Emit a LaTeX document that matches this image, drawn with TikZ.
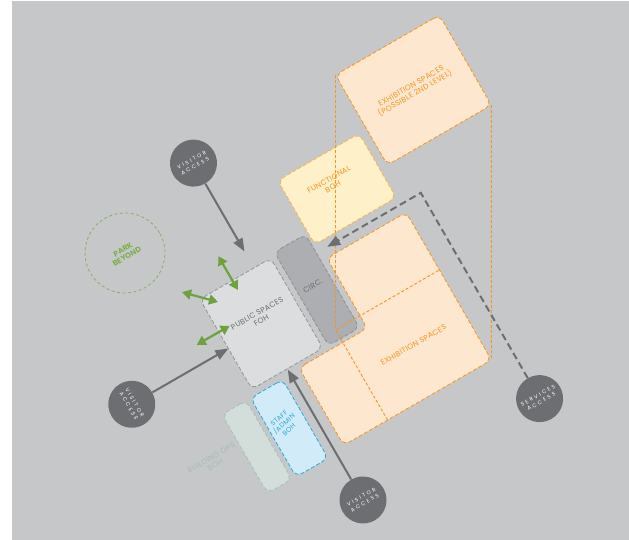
\documentclass[tikz,border=0pt]{standalone}
\usepackage{fontspec}
\setmainfont{Poppins}
\usetikzlibrary{arrows.meta}
\definecolor{bggray}{HTML}{C6C7C9}
\definecolor{dgray}{HTML}{6D6E71}
\definecolor{orng}{HTML}{F7941D}
\definecolor{peach}{HTML}{FDE7CF}
\definecolor{ylw}{HTML}{FEF0C9}
\definecolor{ylwline}{HTML}{FBB34C}
\definecolor{circfill}{HTML}{ADAEB1}
\definecolor{circline}{HTML}{8F9093}
\definecolor{fohfill}{HTML}{DCDDDF}
\definecolor{fohline}{HTML}{939598}
\definecolor{blfill}{HTML}{D2EBF8}
\definecolor{blline}{HTML}{27AAE1}
\definecolor{opsfill}{HTML}{D3DEDA}
\definecolor{opsline}{HTML}{A7C2B8}
\definecolor{opstext}{HTML}{A3BCB1}
\definecolor{grn}{HTML}{6EA23F}
\definecolor{parkgrn}{HTML}{7DAF4E}
\begin{document}
\begin{tikzpicture}[x=1pt,y=-1pt,
  lbl/.style={font=\fontsize{7.6}{8.2}\selectfont\addfontfeature{LetterSpace=4}, align=center, inner sep=0pt},
  box/.style={draw, line width=0.8pt, dash pattern=on 4pt off 2pt, rounded corners=7pt, inner sep=0pt},
  exh/.style={box, draw=orng, fill=peach},
  fbox/.style={box, draw=ylwline, fill=ylw},
  cbox/.style={box, draw=circline, fill=circfill},
  fohbox/.style={box, draw=fohline, fill=fohfill},
  staffbox/.style={box, draw=blline, fill=blfill},
  opsbox/.style={box, draw=opsline, fill=opsfill},
  proj/.style={draw=orng, line width=0.9pt, dash pattern=on 3pt off 2pt},
  acc/.style={circle, fill=dgray, minimum size=47pt, inner sep=0pt, text=white, align=center,
    font=\fontsize{5.3}{6.8}\selectfont\addfontfeature{LetterSpace=40}},
  garrow/.style={draw=dgray, line width=2pt, -{Triangle[length=13pt,width=10pt]}},
  sarrow/.style={draw=dgray, line width=2pt, dash pattern=on 7pt off 4pt, -{Triangle[length=13pt,width=10pt]}},
  gdbl/.style={draw=grn, line width=2.2pt, {Triangle[length=9pt,width=10pt]}-{Triangle[length=9pt,width=10pt]}}
]
\useasboundingbox (0,0) rectangle (629,540);
\fill[white] (0,0) rectangle (629,540);
\fill[bggray] (12,1) rectangle (629,540);
\begin{scope}[rotate=30, transform shape]
  % upper level exhibition
  \node[exh, minimum width=120pt, minimum height=104pt, lbl, text=orng] (exh2) at (313,284.7)
    {EXHIBITION SPACES\\(POSSIBLE 2ND LEVEL)};
  % functional BOH
  \node[fbox, minimum width=94pt, minimum height=74pt] (fboh) at (197.3,332.2) {};
  \node[lbl, text=orng] (fbohlbl) at (195,324) {FUNCTIONAL\\BOH};
  % circulation
  \node[cbox, minimum width=36pt, minimum height=108pt] (circ) at (129.5,409.6) {};
  \node[lbl, text=dgray] (circlbl) at (128,404) {CIRC.};
  % public spaces
  \node[fohbox, minimum width=82pt, minimum height=104pt] (foh) at (64.5,411) {};
  \node[lbl, text=dgray] (fohlbl) at (66,404) {PUBLIC SPACES\\FOH};
  % exhibition spaces (L shape)
  \draw[exh] (75,468) -- (154,468) -- (154,387) -- (245.6,387) -- (245.6,557.5) -- (75,557.5) -- cycle;
  % staff / admin
  \node[staffbox, minimum width=37pt, minimum height=91pt] (staff) at (36.5,515.5) {};
  \node[lbl, text=blline, rotate=12, font=\fontsize{6.8}{7.4}\selectfont\addfontfeature{LetterSpace=4}] (stafflbl) at (34,509) {STAFF\\/ADMIN\\BOH};
  % building ops
  \node[opsbox, minimum width=28pt, minimum height=91pt] (ops) at (-1,515.5) {};
  \node[lbl, text=opstext] (opslbl) at (-46,506) {BUILDING OPS\\BOH};
  % projection of upper level
  \coordinate (pa) at (253,232.7);
  \coordinate (pb) at (125.6,453.5);
  \coordinate (pc) at (373,336.7);
  \coordinate (pd) at (245.6,557.5);
  \coordinate (pe) at (245.6,453.5);
  \coordinate (pf) at (125.6,557.5);
  \draw[proj] (pa) -- (pb);
  \draw[proj] (pc) -- (pd);
  \draw[proj] (pf) -- (pb) -- (pe);
  \node[lbl, text=orng] (exhlbl) at (185.6,505.5) {EXHIBITION SPACES};
  % park
  \node[circle, draw=parkgrn, line width=0.7pt, dash pattern=on 3pt off 2.5pt, minimum size=80pt,
    lbl, text=parkgrn, font=\fontsize{7.6}{7.8}\selectfont\bfseries] (park) at (-18.25,281.6) {PARK\\BEYOND};
  % green two-way arrows
  \coordinate (g1a) at (61,331);
  \coordinate (g1b) at (61,370);
  \coordinate (g2a) at (11.6,344);
  \coordinate (g2b) at (37.8,370.5);
  \coordinate (g3a) at (-2,397);
  \coordinate (g3b) at (36,397);
  \draw[gdbl] (g1a) -- (g1b);
  \draw[gdbl] (g2a) -- (g2b);
  \draw[gdbl] (g3a) -- (g3b);
  % access points
  \node[acc] (vtop) at (86,238) {VISITOR\\ACCESS};
  \node[acc, rotate=-90] (vleft) at (-88,416) {VISITOR\\ACCESS};
  \node[acc] (vbot) at (64.4,614.5) {VISITOR\\ACCESS};
  \node[acc] (serv) at (268,615) {SERVICES\\ACCESS};
  \coordinate (tTop) at (86,340);
  \coordinate (tLeft) at (23.5,416);
  \coordinate (tBot) at (64.4,464);
  \coordinate (sCorner) at (268,377.4);
  \coordinate (sTip) at (160,377.4);
  \draw[garrow] (vtop) -- (tTop);
  \draw[garrow] (vleft) -- (tLeft);
  \draw[garrow] (vbot) -- (tBot);
  \draw[sarrow] (serv) -- (sCorner) -- (sTip);
\end{scope}
\end{tikzpicture}
\end{document}
